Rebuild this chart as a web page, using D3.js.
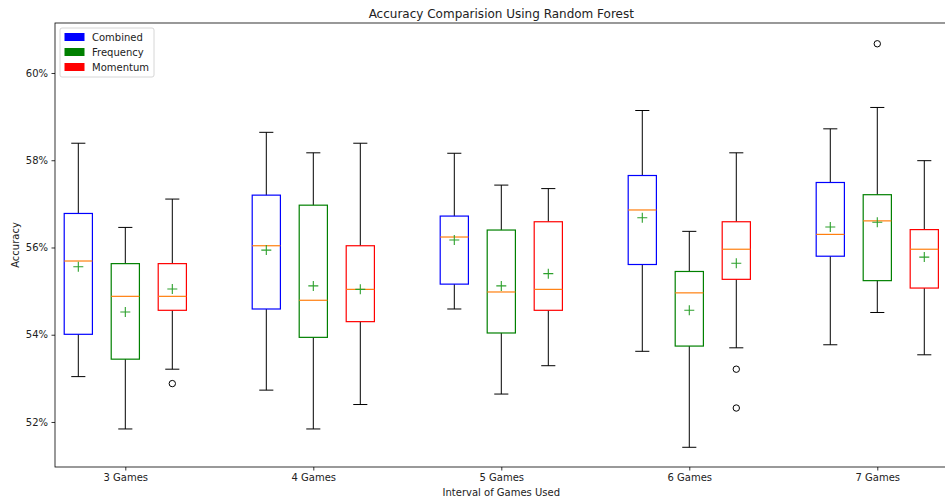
<!DOCTYPE html>
<html>
<head>
<meta charset="utf-8">
<script src="https://cdn.jsdelivr.net/npm/d3@7"></script>
<style>
  body { margin: 0; background: #fff; }
  svg text { font-family: "DejaVu Sans", sans-serif; fill: #222; }
</style>
</head>
<body>
<div id="chart"></div>
<script>
// group labels and series
const groups = ["3 Games", "4 Games", "5 Games", "6 Games", "7 Games"];
const seriesNames = ["Combined", "Frequency", "Momentum"];
const seriesColors = ["#0000ff", "#008000", "#ff0000"];
const yTicks = [52, 54, 56, 58, 60];

// box stats per series, one entry per group: [low whisker, q1, median, q3, high whisker]
const combinedStats = [
    [53.04, 54.01, 55.69, 56.78, 58.39],
    [52.73, 54.59, 56.04, 57.20, 58.64],
    [54.59, 55.16, 56.24, 56.72, 58.16],
    [53.62, 55.61, 56.86, 57.65, 59.14],
    [53.77, 55.80, 56.30, 57.49, 58.72]
];
const frequencyStats = [
    [51.84, 53.44, 54.88, 55.63, 56.46],
    [51.84, 53.94, 54.79, 56.97, 58.17],
    [52.64, 54.04, 54.98, 56.40, 57.43],
    [51.42, 53.74, 54.96, 55.45, 56.37],
    [54.51, 55.24, 56.61, 57.21, 59.21]
];
const momentumStats = [
    [53.21, 54.56, 54.88, 55.63, 57.11],
    [52.40, 54.30, 55.04, 56.04, 58.39],
    [53.29, 54.56, 55.04, 56.59, 57.35],
    [53.70, 55.27, 55.96, 56.59, 58.17],
    [53.54, 55.07, 55.96, 56.41, 57.99]
];
const combinedMeans = [55.56, 55.94, 56.17, 56.68, 56.47];
const frequencyMeans = [54.52, 55.12, 55.12, 54.56, 56.58];
const momentumMeans = [55.05, 55.04, 55.40, 55.64, 55.78];
const combinedOutliers = [[], [], [], [], []];
const frequencyOutliers = [[], [], [], [], [60.67]];
const momentumOutliers = [[52.88], [], [], [53.21, 52.32], []];

const allStats = [combinedStats, frequencyStats, momentumStats];
const allMeans = [combinedMeans, frequencyMeans, momentumMeans];
const allOutliers = [combinedOutliers, frequencyOutliers, momentumOutliers];

const width = 945, height = 504;
const m = {left: 55, top: 23, bottom: 467, right: 947.6};

const svg = d3.select("#chart").append("svg")
    .attr("width", width)
    .attr("height", height);

const x = d3.scaleLinear().domain([-0.374, 4.374]).range([m.left, m.right]);
const y = d3.scaleLinear().domain([50.968, 61.146]).range([m.bottom, m.top]);
const offset = 0.25, boxW = 0.15;

const plot = svg.append("g");

allStats.forEach((stats, s) => {
    stats.forEach((st, g) => {
        const cx = x(g + (s - 1) * offset);
        const bw = x(boxW) - x(0);
        const b = plot.append("g");
        // whiskers
        b.append("line").attr("x1", cx).attr("x2", cx).attr("y1", y(st[0])).attr("y2", y(st[1]))
            .attr("stroke", "#000").attr("stroke-width", 1);
        b.append("line").attr("x1", cx).attr("x2", cx).attr("y1", y(st[3])).attr("y2", y(st[4]))
            .attr("stroke", "#000").attr("stroke-width", 1);
        // caps
        [st[0], st[4]].forEach(v => {
            b.append("line").attr("x1", cx - bw / 4).attr("x2", cx + bw / 4)
                .attr("y1", y(v)).attr("y2", y(v))
                .attr("stroke", "#000").attr("stroke-width", 1);
        });
        // box
        b.append("rect")
            .attr("x", cx - bw / 2).attr("y", y(st[3]))
            .attr("width", bw).attr("height", y(st[1]) - y(st[3]))
            .attr("fill", "none")
            .attr("stroke", seriesColors[s]).attr("stroke-width", 1.2);
        // median
        b.append("line").attr("x1", cx - bw / 2).attr("x2", cx + bw / 2)
            .attr("y1", y(st[2])).attr("y2", y(st[2]))
            .attr("stroke", "#ff7f0e").attr("stroke-width", 1.2);
        // mean marker
        const my = y(allMeans[s][g]);
        b.append("path")
            .attr("d", `M${cx - 5},${my}H${cx + 5}M${cx},${my - 5}V${my + 5}`)
            .attr("stroke", "#2ca02c").attr("stroke-width", 1.1);
        // fliers
        allOutliers[s][g].forEach(v => {
            b.append("circle").attr("cx", cx).attr("cy", y(v)).attr("r", 3.2)
                .attr("fill", "none").attr("stroke", "#000").attr("stroke-width", 1);
        });
    });
});

// axes
const yAxis = d3.axisLeft(y).tickValues(yTicks).tickFormat(d => d + "%").tickSize(3.5).tickPadding(3.5);
const yg = svg.append("g").attr("transform", `translate(${m.left},0)`).call(yAxis);
yg.select(".domain").remove();
yg.selectAll("text").style("font-size", "10px");
yg.selectAll("line").attr("stroke", "#000").attr("stroke-width", 0.8);

const xAxis = d3.axisBottom(x).tickValues(d3.range(groups.length)).tickFormat(i => groups[i]).tickSize(3.5).tickPadding(3.5);
const xg = svg.append("g").attr("transform", `translate(0,${m.bottom})`).call(xAxis);
xg.select(".domain").remove();
xg.selectAll("text").style("font-size", "10px");
xg.selectAll("line").attr("stroke", "#000").attr("stroke-width", 0.8);

// spines
svg.append("rect")
    .attr("x", m.left).attr("y", m.top)
    .attr("width", m.right - m.left).attr("height", m.bottom - m.top)
    .attr("fill", "none").attr("stroke", "#000").attr("stroke-width", 0.8);

// title & labels
svg.append("text").attr("x", (m.left + m.right) / 2).attr("y", 18)
    .attr("text-anchor", "middle").style("font-size", "12px")
    .text("Accuracy Comparision Using Random Forest");
svg.append("text").attr("x", (m.left + m.right) / 2).attr("y", 496)
    .attr("text-anchor", "middle").style("font-size", "10px")
    .text("Interval of Games Used");
svg.append("text")
    .attr("transform", `translate(19,${(m.top + m.bottom) / 2}) rotate(-90)`)
    .attr("text-anchor", "middle").style("font-size", "10px")
    .text("Accuracy");

// legend
const lg = svg.append("g").attr("transform", "translate(60,28)");
lg.append("rect").attr("width", 94).attr("height", 49).attr("rx", 2)
    .attr("fill", "#fff").attr("fill-opacity", 0.8)
    .attr("stroke", "#ccc").attr("stroke-width", 0.8);
seriesNames.forEach((name, i) => {
    lg.append("rect").attr("x", 4.5).attr("y", 5 + i * 15)
        .attr("width", 20).attr("height", 8)
        .attr("fill", seriesColors[i]);
    lg.append("text").attr("x", 32).attr("y", 12.5 + i * 15)
        .style("font-size", "10px").text(name);
});
</script>
</body>
</html>
